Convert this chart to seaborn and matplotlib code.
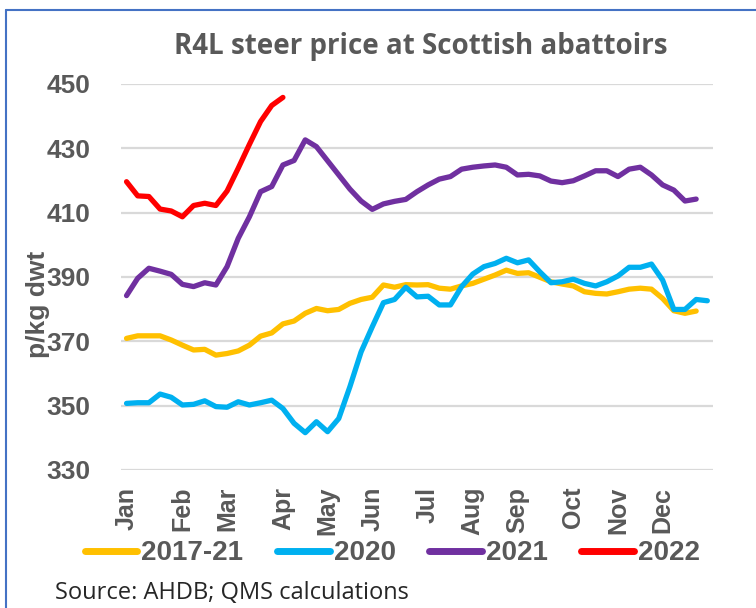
import numpy as np
import pandas as pd
import matplotlib
matplotlib.use('Agg')
import matplotlib.pyplot as plt
import seaborn as sns
from matplotlib.lines import Line2D

# weekly R4L steer prices, p/kg dwt
avg_2017_21 = [370.9, 371.7, 371.7, 371.7, 370.4, 368.8, 367.3, 367.5, 365.7, 366.2,
               367.0, 368.8, 371.6, 372.6, 375.4, 376.3, 378.7, 380.2, 379.5, 379.9,
               381.8, 383.0, 383.7, 387.5, 386.8, 387.6, 387.5, 387.6, 386.5, 386.2,
               387.2, 388.0, 389.3, 390.6, 392.1, 391.1, 391.3, 389.9, 388.5, 387.8,
               387.2, 385.4, 384.9, 384.7, 385.4, 386.2, 386.5, 386.2, 383.3, 379.5,
               378.7, 379.4]
y2020 = [350.7, 350.9, 350.9, 353.6, 352.6, 350.2, 350.4, 351.5, 349.7, 349.5,
         351.2, 350.2, 350.9, 351.7, 349.1, 344.5, 341.6, 345.0, 341.9, 346.0,
         355.9, 366.7, 374.5, 382.0, 383.0, 386.8, 383.8, 384.0, 381.3, 381.3,
         387.0, 390.9, 393.2, 394.2, 395.8, 394.4, 395.3, 391.6, 388.2, 388.5,
         389.3, 388.0, 387.2, 388.5, 390.3, 393.0, 393.0, 394.0, 389.0, 379.9,
         379.9, 383.0, 382.6]
y2021 = [384.2, 389.6, 392.7, 391.8, 390.8, 387.7, 387.0, 388.2, 387.5, 393.2,
         402.0, 408.7, 416.5, 418.1, 424.8, 426.2, 432.6, 430.5, 426.1, 421.7,
         417.3, 413.6, 411.0, 412.7, 413.5, 414.1, 416.5, 418.6, 420.4, 421.2,
         423.5, 424.1, 424.5, 424.8, 424.1, 421.7, 421.9, 421.4, 419.8, 419.3,
         419.9, 421.4, 423.0, 423.0, 421.2, 423.5, 424.1, 421.7, 418.6, 417.0,
         413.6, 414.2]
y2022 = [419.6, 415.2, 415.0, 411.1, 410.5, 408.7, 412.2, 412.9, 412.2, 416.7,
         423.8, 431.2, 438.3, 443.3, 445.8]

series_names = ['2017-21', '2020', '2021', '2022']
series_colors = ['#FFC000', '#00B0F0', '#7030A0', '#FF0000']

month_labels = ['Jan', 'Feb', 'Mar', 'Apr', 'May', 'Jun',
                'Jul', 'Aug', 'Sep', 'Oct', 'Nov', 'Dec']
month_first_week = [0, 5, 9, 14, 18, 22, 27, 31, 35, 40, 44, 48]
n_weeks = 53

frames = []
for name, vals in zip(series_names, [avg_2017_21, y2020, y2021, y2022]):
    frames.append(pd.DataFrame({'week': np.arange(len(vals)), 'price': vals, 'series': name}))
df = pd.concat(frames, ignore_index=True)

sns.set_style('white')
plt.rcParams['font.family'] = ['Liberation Sans', 'DejaVu Sans']
grey = '#595959'

fig = plt.figure(figsize=(7.56, 6.08), dpi=100)
ax = fig.add_axes([0.160, 0.227, 0.783, 0.635])

sns.lineplot(data=df, x='week', y='price', hue='series', hue_order=series_names,
             palette=dict(zip(series_names, series_colors)), linewidth=3.8,
             ax=ax, legend=True)

ax.set_xlim(-0.5, n_weeks - 0.5)
ax.set_ylim(330, 450)
ax.set_yticks(np.arange(330, 451, 20))
ax.set_xticks(month_first_week)
ax.set_xticklabels(month_labels, rotation=90, fontsize=18, fontweight='bold', color=grey)
ax.tick_params(axis='y', labelsize=19, labelcolor=grey, length=0, pad=22)
ax.tick_params(axis='x', length=0, pad=12)
for lab in ax.get_yticklabels():
    lab.set_fontweight('bold')
ax.grid(axis='y', color='#D9D9D9', linewidth=1.6)
ax.set_axisbelow(True)
for s in ax.spines.values():
    s.set_visible(False)

ax.set_xlabel('')
ax.set_ylabel('p/kg dwt', fontsize=19, fontweight='bold', color=grey)
ax.yaxis.set_label_coords(-0.12, 0.43)

sns.move_legend(ax, 'center', bbox_to_anchor=(0.519, 0.090),
                bbox_transform=fig.transFigure, ncol=4, frameon=False, title=None,
                fontsize=20, handlelength=1.9, handletextpad=0.15, columnspacing=1.2)
for t in ax.get_legend().get_texts():
    t.set_fontweight('bold')
    t.set_color(grey)
for h in ax.get_legend().get_lines():
    h.set_linewidth(5)

fig.text(0.556, 0.923, 'R4L steer price at Scottish abattoirs', ha='center', va='center',
         fontsize=20, fontweight='bold', color=grey, family='Open Sans')
fig.text(0.073, 0.025, 'Source: AHDB; QMS calculations', ha='left', va='center',
         fontsize=17, color='#262626', family='Open Sans')

# chart frame (left and top edges)
fig.add_artist(Line2D([0.008, 0.008], [0.0, 0.984], transform=fig.transFigure,
                      color='#4472C4', linewidth=1.5))
fig.add_artist(Line2D([0.008, 1.0], [0.984, 0.984], transform=fig.transFigure,
                      color='#4472C4', linewidth=1.5))

fig.savefig('out.png', dpi=100)
